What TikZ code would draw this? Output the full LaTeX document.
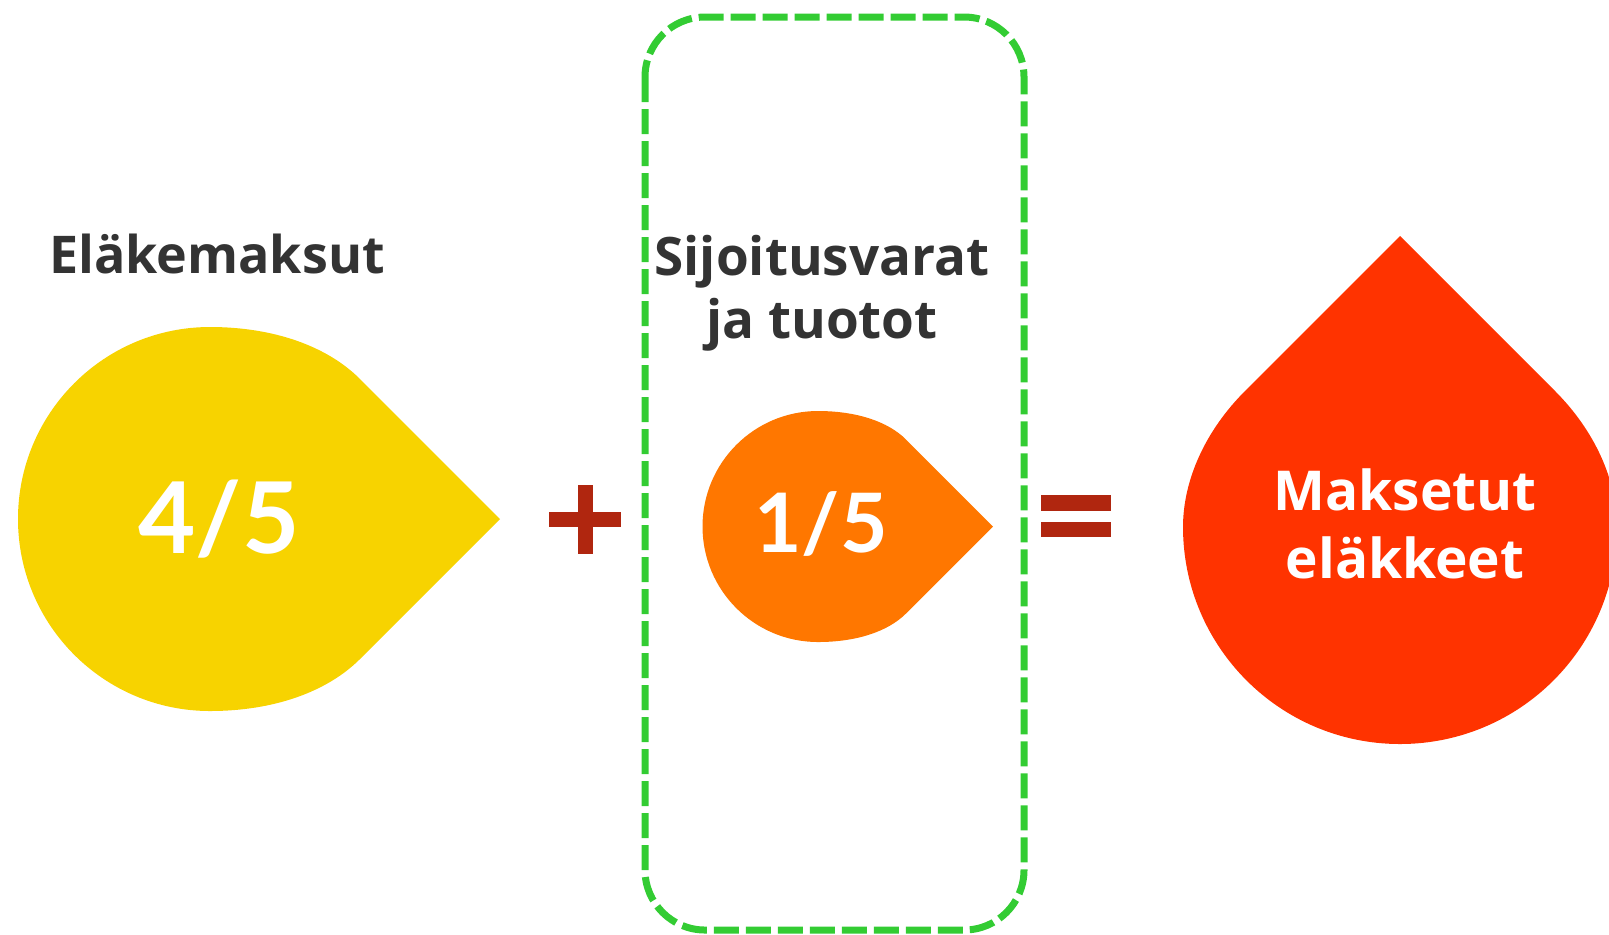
\documentclass[tikz,border=0pt]{standalone}
\usepackage{fontspec}
\usetikzlibrary{calc}
\setmainfont{Open Sans}
\newfontfamily\numfont{Lato}
\definecolor{dropyellow}{HTML}{F7D300}
\definecolor{droporange}{HTML}{FF7700}
\definecolor{dropred}{HTML}{FF3300}
\definecolor{boxgreen}{HTML}{33CC33}
\definecolor{signred}{HTML}{B0260F}
\definecolor{labelgray}{HTML}{333333}
\tikzset{
  label text/.style={text=labelgray, font=\bfseries\fontsize{26.5}{31}\selectfont, align=center, inner sep=0pt},
  drop text/.style={text=white, inner sep=0pt, align=center},
  sign/.style={fill=signred, draw=none},
  frame/.style={draw=boxgreen, line width=3.5pt, dash pattern=on 12.5pt off 3.5pt, rounded corners=30pt}
}
% drop shape in local coordinates: #1 colour, #2 tip distance d, #3 radius r, #4 edge length t, #5 control length at edge, #6 control length at circle
\newcommand\mydrop[6]{%
  \fill[#1] (#2,0) -- ({#2-#4},{-#4})
    .. controls ({#2-#4-0.7071*#5},{-#4-0.7071*#5}) and (#6,-#3) .. (0,-#3)
    arc[start angle=270, end angle=90, radius=#3]
    .. controls (#6,#3) and ({#2-#4-0.7071*#5},{#4+0.7071*#5}) .. ({#2-#4},{#4}) -- cycle;}
\begin{document}
\begin{tikzpicture}[x=0.5pt, y=-0.5pt]
\useasboundingbox (0,0) rectangle (1609,934);
\clip (0,0) rectangle (1609,934);
% yellow drop
\begin{scope}[shift={(210,519)}]
  \mydrop{dropyellow}{290}{192}{140}{47}{63}
\end{scope}
% orange drop
\begin{scope}[shift={(818,526.5)}]
  \mydrop{droporange}{175}{115.5}{87}{25.8}{38}
\end{scope}
% red drop
\begin{scope}[shift={(1400,527)}, rotate=90]
  \mydrop{dropred}{291}{217}{155}{56}{47}
\end{scope}
% green dashed frame
\draw[frame] (645,17) rectangle (1024,930);
% plus
\fill[sign] (549,511.5) rectangle (621,526.5);
\fill[sign] (577.5,485) rectangle (592.5,554);
% equals
\fill[sign] (1041,495) rectangle (1111,511);
\fill[sign] (1041,522) rectangle (1111,537);
% texts
\node[label text, font=\bfseries\fontsize{26}{31}\selectfont, anchor=base] (elake) at (217,273) {Eläkemaksut};
\node[label text, anchor=base] (sijoitus) at (822,275) {Sijoitusvarat};
\node[label text, anchor=base] (tuotot) at (822,338) {ja tuotot};
\node[drop text, font=\numfont\bfseries\fontsize{49.5}{56}\selectfont, anchor=base] (neljas) at (219,553) {4/5};
\node[drop text, font=\numfont\bfseries\fontsize{41}{46}\selectfont, anchor=base] (viides) at (821,552) {1/5};
\node[drop text, font=\bfseries\fontsize{27.5}{31}\selectfont, anchor=base] (maksetut) at (1405,510) {Maksetut};
\node[drop text, font=\bfseries\fontsize{27.5}{31}\selectfont, anchor=base] (elakkeet) at (1405,578) {eläkkeet};
\end{tikzpicture}
\end{document}
